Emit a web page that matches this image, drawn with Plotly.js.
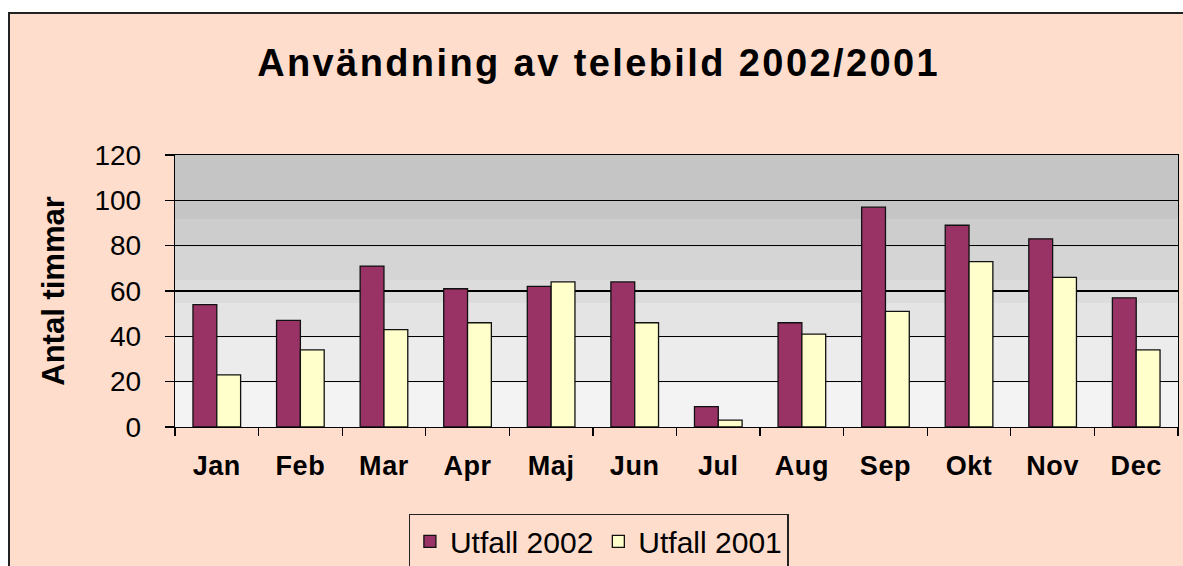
<!DOCTYPE html>
<html>
<head>
<meta charset="utf-8">
<script src="https://cdn.plot.ly/plotly-3.0.1.min.js"></script>
<style>
  html, body { margin: 0; padding: 0; background: #ffffff; width: 1183px; height: 566px; overflow: hidden; }
  #frame { position: absolute; left: 8px; top: 12px; width: 1200px; height: 600px;
           background: #FEDDCC; border: 2px solid #222; box-sizing: border-box; }
  #chart { position: absolute; left: 0; top: 0; width: 1183px; height: 566px; }
  .gtitle { letter-spacing: 2.4px; }
  .xtick text { letter-spacing: 0.6px; }
</style>
</head>
<body>
<div id="frame"></div>
<div id="chart"></div>
<script>
// ---- data ----
const months = ["Jan", "Feb", "Mar", "Apr", "Maj", "Jun", "Jul", "Aug", "Sep", "Okt", "Nov", "Dec"];
const utfall2002 = [54, 47, 71, 61, 62, 64, 9, 46, 97, 89, 83, 57];
const utfall2001 = [23, 34, 43, 46, 64, 46, 3, 41, 51, 73, 66, 34];
const seriesNames = ["Utfall 2002", "Utfall 2001"];
const yTicks = [0, 20, 40, 60, 80, 100, 120];
const titleText = "Användning av telebild 2002/2001";
const yTitleText = "Antal timmar";

// ---- styles ----
const FONT = "Liberation Sans, Arial, sans-serif";
const bandEdges = [0, 0.162, 0.327, 0.456, 0.54, 0.662, 0.765, 1];
const bandColors = ["#f3f3f3", "#ececec", "#e4e4e4", "#dcdcdc", "#d5d5d5", "#cdcdcd", "#c5c5c5"];

const shapes = bandColors.map((c, i) => ({
  type: "rect", xref: "x domain", yref: "y domain",
  x0: 0, x1: 1, y0: bandEdges[i], y1: bandEdges[i + 1],
  fillcolor: c, line: { width: 0 }, layer: "below"
}));

const traces = [
  { type: "bar", x: months, y: utfall2002, name: seriesNames[0],
    marker: { color: "#993366", line: { color: "#111", width: 1.3 } } },
  { type: "bar", x: months, y: utfall2001, name: seriesNames[1],
    marker: { color: "#FFFFCC", line: { color: "#111", width: 1.3 } } }
];

const layout = {
  width: 1183, height: 566,
  paper_bgcolor: "rgba(0,0,0,0)",
  plot_bgcolor: "rgba(0,0,0,0)",
  margin: { l: 175, r: 5, t: 155, b: 139 },
  barmode: "group",
  bargap: 0.43,
  bargroupgap: 0,
  font: { family: FONT, color: "#000" },
  title: {
    text: titleText,
    font: { family: FONT, size: 38, weight: "bold", color: "#000" },
    x: 0.506, xanchor: "center", xref: "container",
    y: 0.89, yanchor: "middle", yref: "container"
  },
  xaxis: {
    type: "category",
    showline: true, linecolor: "#000", linewidth: 1.3, mirror: true,
    ticks: "outside", ticklen: 8, tickwidth: 1.3, tickcolor: "#000",
    tickson: "boundaries",
    tickfont: { family: FONT, size: 27, weight: "bold" },
    ticklabelstandoff: 14,
    showgrid: false, zeroline: false
  },
  yaxis: {
    range: [0, 120],
    tickvals: yTicks,
    ticktext: yTicks.map(String),
    showline: true, linecolor: "#000", linewidth: 1.3, mirror: true,
    ticks: "outside", ticklen: 9, tickwidth: 1.3, tickcolor: "#000",
    tickfont: { family: FONT, size: 28 },
    ticklabelstandoff: 18,
    showgrid: true, gridcolor: "#000", gridwidth: 1.3,
    zeroline: false,
    title: { text: yTitleText, font: { family: FONT, size: 31, weight: "bold" }, standoff: 20 }
  },
  legend: {
    orientation: "h",
    x: 0.506, xanchor: "center", xref: "container",
    y: 1 - 514 / 566, yanchor: "top", yref: "container",
    bgcolor: "#FEDDCC", bordercolor: "#222", borderwidth: 1.3,
    font: { family: FONT, size: 30 },
    traceorder: "normal",
    itemwidth: 30
  },
  shapes: shapes,
  showlegend: true
};

Plotly.newPlot("chart", traces, layout, { displayModeBar: false, staticPlot: true });
</script>
</body>
</html>
